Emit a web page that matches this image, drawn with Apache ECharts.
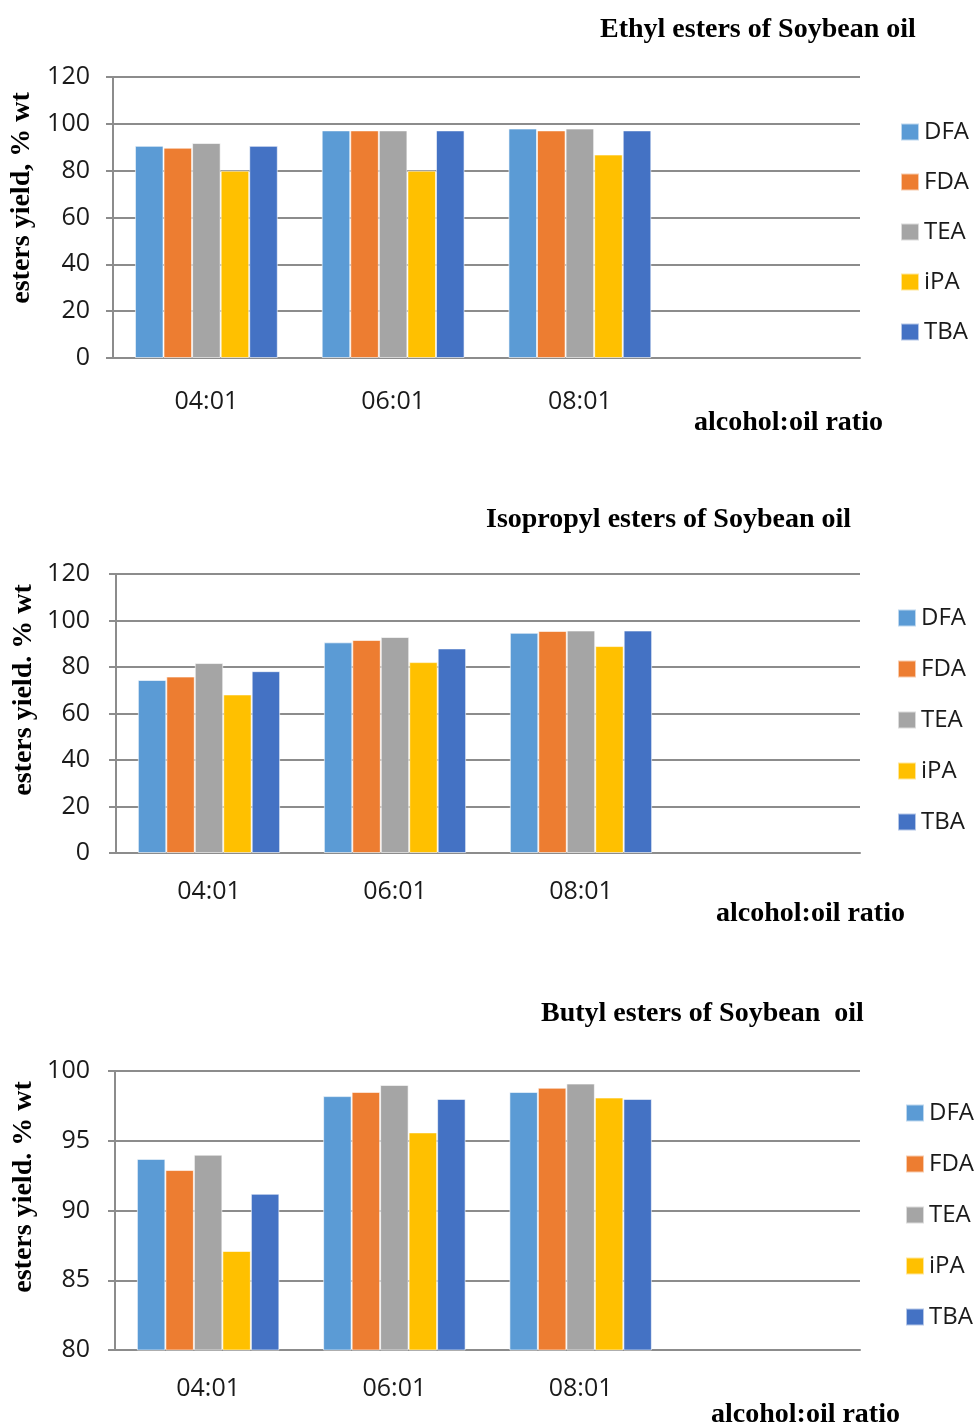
<!DOCTYPE html>
<html>
<head>
<meta charset="utf-8">
<script src="https://cdn.jsdelivr.net/npm/echarts@6/dist/echarts.min.js"></script>
<style>
html,body{margin:0;padding:0;background:#fff;}
#chart{width:974px;height:1427px;}
</style>
</head>
<body>
<div id="chart"></div>
<script>
// ---- data ----
const categories = ['04:01', '06:01', '08:01', ''];
const seriesNames = ['DFA', 'FDA', 'TEA', 'iPA', 'TBA'];
const seriesColors = ['#5B9BD5', '#ED7D31', '#A5A5A5', '#FFC000', '#4472C4'];

const panelTitles = ['Ethyl esters of Soybean oil', 'Isopropyl esters of Soybean oil', 'Butyl esters of Soybean  oil'];
const yAxisNames = ['esters yield, % wt', 'esters yield. % wt', 'esters yield. % wt'];
const xAxisName = 'alcohol:oil ratio';

// ethyl esters
const ethylDFA = [90.6, 97.2, 98.0];
const ethylFDA = [89.8, 97.2, 97.2];
const ethylTEA = [91.8, 97.2, 98.0];
const ethylIPA = [80.0, 80.0, 86.9];
const ethylTBA = [90.6, 97.2, 97.2];
// isopropyl esters
const isoDFA = [74.4, 90.6, 94.7];
const isoFDA = [75.9, 91.6, 95.5];
const isoTEA = [81.7, 92.9, 95.7];
const isoIPA = [68.2, 82.1, 89.0];
const isoTBA = [78.2, 88.0, 95.7];
// butyl esters
const butylDFA = [93.7, 98.2, 98.5];
const butylFDA = [92.9, 98.5, 98.8];
const butylTEA = [94.0, 99.0, 99.1];
const butylIPA = [87.1, 95.6, 98.1];
const butylTBA = [91.2, 98.0, 98.0];

const yTicks1 = {min: 0, max: 120, interval: 20};
const yTicks2 = {min: 0, max: 120, interval: 20};
const yTicks3 = {min: 80, max: 100, interval: 5};

// ---- layout ----
const panels = [
  {data: [ethylDFA, ethylFDA, ethylTEA, ethylIPA, ethylTBA], y: yTicks1,
   left: 113, top: 77, width: 747, height: 281, xMargin: 31, yMargin: 23,
   title: {left: 600, top: 16}, xname: {left: 694, top: 409}, yname: {x: 22, y: 198},
   legend: {left: 900, top: 120, gap: 26}},
  {data: [isoDFA, isoFDA, isoTEA, isoIPA, isoTBA], y: yTicks2,
   left: 116, top: 574, width: 744, height: 279, xMargin: 26, yMargin: 26,
   title: {left: 486, top: 506}, xname: {left: 716, top: 900}, yname: {x: 24, y: 690},
   legend: {left: 897, top: 606, gap: 27}},
  {data: [butylDFA, butylFDA, butylTEA, butylIPA, butylTBA], y: yTicks3,
   left: 115, top: 1071, width: 745, height: 279, xMargin: 26, yMargin: 25,
   title: {left: 541, top: 1000}, xname: {left: 711, top: 1401}, yname: {x: 24, y: 1187},
   legend: {left: 905, top: 1101, gap: 27}}
];

const sans = 'Open Sans';
const serif = 'Liberation Serif';
const lineColor = '#8c8c8c';

const grid = [], xAxis = [], yAxis = [], series = [], title = [], legend = [], graphic = [];

panels.forEach((p, i) => {
  grid.push({left: p.left, top: p.top, width: p.width, height: p.height});
  xAxis.push({type: 'category', gridIndex: i, data: categories,
    axisLine: {show: true, lineStyle: {color: lineColor, width: 2}},
    axisTick: {show: false},
    axisLabel: {margin: p.xMargin, fontFamily: sans, fontSize: 25, color: '#1a1a1a'}});
  yAxis.push({type: 'value', gridIndex: i, min: p.y.min, max: p.y.max, interval: p.y.interval,
    axisLine: {show: true, lineStyle: {color: lineColor, width: 2}},
    axisTick: {show: true, length: 7, lineStyle: {color: lineColor, width: 2}},
    splitLine: {show: true, lineStyle: {color: lineColor, width: 2}},
    axisLabel: {margin: p.yMargin, fontFamily: sans, fontSize: 25, color: '#1a1a1a'}});

  seriesNames.forEach((name, k) => {
    series.push({type: 'bar', name: name, xAxisIndex: i, yAxisIndex: i,
      data: p.data[k], barGap: '0%', barCategoryGap: '23.5%',
      itemStyle: {color: seriesColors[k], borderColor: 'rgba(255,255,255,0.6)', borderWidth: 1},
      emphasis: {disabled: true}, animation: false});
  });

  title.push({text: panelTitles[i], left: p.title.left, top: p.title.top, padding: 0,
    textStyle: {fontFamily: serif, fontWeight: 'bold', fontSize: 28, color: '#000'}});
  title.push({text: xAxisName, left: p.xname.left, top: p.xname.top, padding: 0,
    textStyle: {fontFamily: serif, fontWeight: 'bold', fontSize: 28, color: '#000'}});

  legend.push({data: seriesNames, orient: 'vertical', left: p.legend.left, top: p.legend.top,
    padding: 0, itemWidth: 18, itemHeight: 17, itemGap: p.legend.gap, icon: 'rect',
    selectedMode: false,
    textStyle: {fontFamily: sans, fontSize: 24, lineHeight: 24, color: '#1a1a1a'}});

  graphic.push({type: 'text', x: p.yname.x, y: p.yname.y, rotation: Math.PI / 2,
    style: {text: yAxisNames[i], fontFamily: serif, fontWeight: 'bold', fontSize: 28,
      fill: '#000', align: 'center', verticalAlign: 'middle'}});
});

const chart = echarts.init(document.getElementById('chart'), null, {renderer: 'canvas'});
chart.setOption({
  backgroundColor: '#fff',
  animation: false,
  title: title,
  legend: legend,
  grid: grid,
  xAxis: xAxis,
  yAxis: yAxis,
  series: series,
  graphic: graphic
});
</script>
</body>
</html>
